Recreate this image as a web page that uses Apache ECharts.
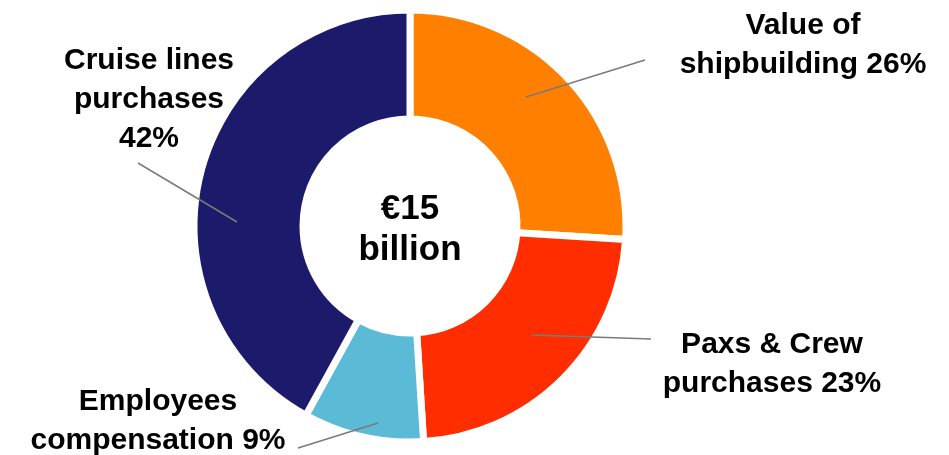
<!DOCTYPE html>
<html>
<head>
<meta charset="utf-8">
<style>
  html, body { margin: 0; padding: 0; background: #ffffff; }
  #chart { width: 949px; height: 455px; }
</style>
<script src="https://cdn.jsdelivr.net/npm/echarts@6/dist/echarts.min.js"></script>
</head>
<body>
<div id="chart"></div>
<script>
// ---- data ----
var categories = ['Value of\nshipbuilding', 'Paxs & Crew\npurchases', 'Employees\ncompensation', 'Cruise lines\npurchases'];
var shares = [26, 23, 9, 42];
var percentSeparators = [' ', ' ', ' ', '\n'];
var centerText = '\u20AC15\nbillion';

// ---- styling / layout (not data) ----
var colors = ['#ff8000', '#ff2d00', '#5bbad6', '#1b1a6b'];
var labelPos = [
  { x: 803, y: 45 },
  { x: 772, y: 364 },
  { x: 158, y: 421 },
  { x: 149, y: 100 }
];
var leaderLines = [
  [[526, 97], [645, 60]],
  [[532, 335], [651, 339]],
  [[378, 423], [298, 448]],
  [[237, 222], [138, 163]]
];

var chart = echarts.init(document.getElementById('chart'), null, { renderer: 'canvas' });

var fontFamily = '"Liberation Sans", Arial, Helvetica, sans-serif';
var pieCenter = [410, 226];
var pieRadius = [107, 216];

var ringData = categories.map(function (name, i) {
  return { name: name, value: shares[i], itemStyle: { color: colors[i] } };
});
var labelData = categories.map(function (name, i) {
  return { name: name, value: shares[i] };
});

chart.setOption({
  backgroundColor: '#ffffff',
  animation: false,
  series: [{
    type: 'pie',
    z: 2,
    center: pieCenter,
    radius: pieRadius,
    startAngle: 90,
    clockwise: true,
    silent: true,
    itemStyle: { borderColor: '#ffffff', borderWidth: 7 },
    label: { show: false },
    labelLine: { show: false },
    emphasis: { disabled: true },
    data: ringData
  }, {
    type: 'pie',
    z: 5,
    center: pieCenter,
    radius: pieRadius,
    startAngle: 90,
    clockwise: true,
    silent: true,
    avoidLabelOverlap: false,
    itemStyle: { color: 'rgba(0,0,0,0)' },
    label: {
      show: true,
      position: 'outside',
      color: '#000000',
      fontFamily: fontFamily,
      fontWeight: 'bold',
      fontSize: 30,
      lineHeight: 39,
      align: 'center',
      formatter: function (p) {
        return p.name + percentSeparators[p.dataIndex] + p.value + '%';
      }
    },
    labelLine: {
      show: true,
      lineStyle: { color: '#7a7a7a', width: 1.5 }
    },
    labelLayout: function (params) {
      var i = params.dataIndex;
      var l = leaderLines[i];
      var mid = [(l[0][0] + l[1][0]) / 2, (l[0][1] + l[1][1]) / 2];
      return {
        x: labelPos[i].x,
        y: labelPos[i].y,
        align: 'center',
        verticalAlign: 'middle',
        labelLinePoints: [l[0], mid, l[1]]
      };
    },
    emphasis: { disabled: true },
    data: labelData
  }],
  graphic: [{
    type: 'text',
    x: 410,
    y: 230,
    z: 10,
    style: {
      text: centerText,
      fill: '#000000',
      font: 'bold 35px ' + fontFamily,
      lineHeight: 41,
      textAlign: 'center',
      textVerticalAlign: 'middle'
    }
  }]
});
</script>
</body>
</html>
